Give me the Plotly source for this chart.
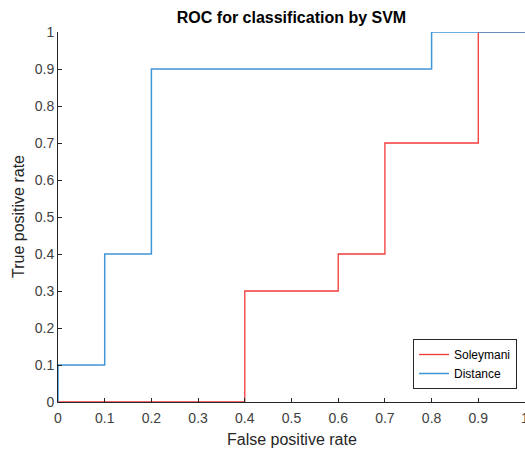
import plotly.graph_objects as go

# Data (step ROC curves, drawn with 'hv' line shape)
soleymani_fpr = [0, 0.4, 0.6, 0.7, 0.9, 1.0]
soleymani_tpr = [0, 0.3, 0.4, 0.7, 1.0, 1.0]
distance_fpr = [0, 0, 0.1, 0.2, 0.8, 1.0]
distance_tpr = [0, 0.1, 0.4, 0.9, 1.0, 1.0]

tick_vals = [0, 0.1, 0.2, 0.3, 0.4, 0.5, 0.6, 0.7, 0.8, 0.9, 1.0]
tick_text = ["0", "0.1", "0.2", "0.3", "0.4", "0.5", "0.6", "0.7", "0.8", "0.9", "1"]

FONT = "Liberation Sans, Arial, Helvetica, sans-serif"
AX = "#262626"

fig = go.Figure()
fig.add_trace(go.Scatter(x=soleymani_fpr, y=soleymani_tpr, mode="lines", name="Soleymani",
                         line=dict(color="#f23a3a", width=1.3, shape="hv"), cliponaxis=False))
fig.add_trace(go.Scatter(x=distance_fpr, y=distance_tpr, mode="lines", name="Distance",
                         line=dict(color="#3f95d6", width=1.5, shape="hv"), cliponaxis=False))

axis_common = dict(
    range=[0, 1], tickvals=tick_vals, ticktext=tick_text,
    showgrid=False, zeroline=False, showline=True, linecolor=AX, linewidth=1,
    ticks="inside", ticklen=4, tickcolor=AX, tickwidth=1,
    tickfont=dict(family=FONT, size=14, color="#404040"), mirror=False, fixedrange=True,
    automargin=False, ticklabeloverflow="allow",
)

fig.update_layout(
    width=525, height=450,
    margin=dict(l=58, r=0, t=32, b=48, autoexpand=False),
    paper_bgcolor="white", plot_bgcolor="white",
    font=dict(family=FONT, color=AX),
    xaxis=dict(**axis_common, ticklabelstandoff=3),
    yaxis=dict(**axis_common),
    showlegend=True,
    legend=dict(x=(413 - 58) / 467, y=(402 - 339) / 370, xanchor="left", yanchor="top",
                bgcolor="white", bordercolor=AX, borderwidth=1,
                font=dict(family=FONT, size=12, color="#000000"),
                tracegroupgap=0, itemwidth=30),
    title=dict(text="<b>ROC for classification by SVM</b>", x=(58 + 467 / 2) / 525, xanchor="center",
               y=1 - 17 / 450, yanchor="middle", font=dict(family=FONT, size=16, color="#000000")),
    annotations=[
        dict(text="False positive rate", xref="paper", yref="paper", x=0.5, y=(402 - 439) / 370,
             xanchor="center", yanchor="middle", showarrow=False,
             font=dict(family=FONT, size=16, color=AX)),
        dict(text="True positive rate", xref="paper", yref="paper", x=(18 - 58) / 467, y=0.5,
             xanchor="center", yanchor="middle", showarrow=False, textangle=-90,
             font=dict(family=FONT, size=16, color=AX)),
    ],
)

fig.write_html("out.html", config={"displayModeBar": False},
               post_script="document.body.style.margin='0';document.body.style.overflow='hidden';")
